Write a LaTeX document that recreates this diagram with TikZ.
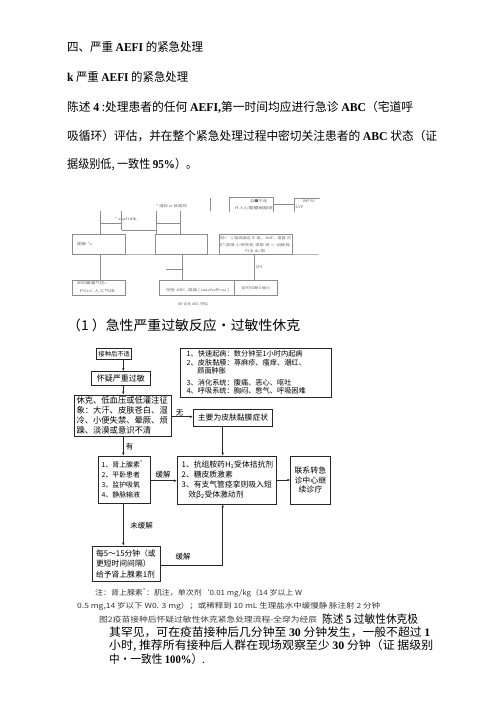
\documentclass[tikz,border=0pt]{standalone}
\usepackage{fontspec}
\usepackage{graphicx}
\setmainfont{Noto Sans CJK SC}
\newfontfamily\latf{Liberation Serif}
\usetikzlibrary{arrows.meta}
\newcommand\latb[1]{{\latf\bfseries #1}}
\newcommand\fitto[2]{\resizebox{#1}{\height}{#2}}
\newcommand\fs[1]{\fontsize{#1}{#1}\selectfont}
\newcommand\fsl[2]{\fontsize{#1}{#2}\selectfont}
\begin{document}
\begin{tikzpicture}[x=1pt,y=-1pt,
  box/.style={draw=black!85, line width=0.8pt, inner sep=0pt, align=center},
  arr/.style={draw=black!85, line width=0.6pt, -{Latex[length=3pt,width=2.6pt]}},
  gl/.style={draw=black!45, line width=0.5pt},
  sbox/.style={draw=black!45, line width=0.5pt, inner sep=0pt},
  tl/.style={inner sep=0pt, anchor=west},
  stx/.style={inner sep=0pt, text=black!60},
  lab/.style={inner sep=0pt, font=\fs{7.5}}]
\useasboundingbox[fill=white] (0,0) rectangle (500,707);

% ---- top paragraph
\node[tl] (t1) at (67,46.7) {\fitto{136pt}{\fs{12}四、严重 \latb{AEFI} 的紧急处理}};
\node[tl] (t2) at (67,76.7) {\fitto{121pt}{\fs{12}\latb{k} 严重 \latb{AEFI} 的紧急处理}};
\node[tl] (t3) at (67,107.3) {\fitto{346pt}{\fs{12}陈述 \latb{4} :处理患者的任何 \latb{AEFI,}第一时间均应进行急诊 \latb{ABC}（宅道呼}};
\node[tl] (t4) at (67,136) {\fitto{370pt}{\fs{12}吸循环）评估，并在整个紧急处理过程中密切关注患者的 \latb{ABC} 状态（证}};
\node[tl] (t5) at (67,165) {\fitto{130pt}{\fs{12}据级别低, 一致性 \latb{95\%}）。}};

% ---- small garbled chart
\draw[gl] (100.7,211) -- (100.7,234);
\draw[gl] (121.7,211) -- (121.7,230);
\draw[gl] (156.7,211) -- (156.7,234);
\draw[gl] (180.7,211) -- (180.7,234);
\draw[gl] (100.7,223) -- (121.7,223);
\draw[gl] (121.7,230) -- (156.7,230);
\draw[gl] (156.7,223) -- (180.7,223);
\draw[gl] (210,198) -- (210,211);
\node[stx] (sl1) at (126.5,219) {\fitto{23pt}{\fs{3.5}* ssaf idlk.}};
\node[stx] (sl2) at (171.5,206) {\fitto{31pt}{\fs{3.5}* 请检 ie 就是的}};
\draw[gl] (229.3,212) -- (229.3,197.7) -- (273.3,197.7) -- (273.3,212);
\node[stx] (st1) at (258.5,201) {\fitto{17pt}{\fs{3.5}自■不适}};
\node[stx] (st2) at (254,208.3) {\fitto{38pt}{\fs{3.5}ff 人心整體碗酸说}};
\draw[gl] (273.3,204) -- (294,204);
\draw[gl] (294,212) -- (294,198) -- (320,198);
\node[stx] (st3) at (308.5,201) {\fitto{13pt}{\fs{3.5}JWF RJ}};
\node[stx] (st4) at (299,207.7) {\fitto{9pt}{\fs{3.5}-LYF}};
\node[sbox, minimum width=52.3pt, minimum height=20.3pt] (s1) at (98.85,244.15) {};
\node[sbox, minimum width=52.3pt, minimum height=20.3pt] (s2) at (181.15,244.15) {};
\node[sbox, minimum width=72.7pt, minimum height=20.3pt] (s3) at (255.65,244.15) {};
\coordinate (sE) at (318,254.3);
\draw[gl] (s1.south west) -- (sE);
\node[stx] (s1t) at (85,244) {\fitto{16pt}{\fs{3.5}图第 *s.}};
\node[stx] (s3a) at (255.5,238.5) {\fitto{71pt}{\fs{3.5}但<'1 电线涵店 IF 电，JbIF，语管 沉}};
\node[stx] (s3b) at (255,245) {\fitto{70pt}{\fs{3.5}们 显得 小快先机 录取 现 ＝ 训练我}};
\node[stx] (s3c) at (255,250.7) {\fitto{20pt}{\fs{3.5}行法 du 图}};
\node[sbox, minimum width=52.3pt, minimum height=15pt] (sa) at (98.85,287.5) {};
\node[sbox, minimum width=118pt, minimum height=15pt] (sb) at (218.3,287.5) {};
\draw[gl] (sb.north -| 234,0) -- (sb.south -| 234,0);
\node[stx] (sat) at (92,283.5) {\fitto{30pt}{\fs{3.5}如时最通气压=}};
\node[stx] (sau) at (97.5,291.5) {\fitto{35pt}{\fs{3.5}PI(rc) 人工气体}};
\node[stx] (sbt) at (197.5,290) {\fitto{63pt}{\fs{3.5}空肚 ABC, 调谐 [ IaacfvdFrsu ]}};
\node[stx] (sbu) at (256,287.7) {\fitto{29pt}{\fs{3.5}定时诊断II 值火}};
\draw[gl] (s1.south -| 100,0) -- (sa.north -| 100,0);
\draw[gl] (s2.south -| 182.7,0) -- (sb.north -| 182.7,0);
\draw[gl] (166,269.3) -- (182.7,269.3);
\draw[gl] (s3.south -| 254,0) -- (sb.north -| 254,0);
\node[stx] (s1pi) at (259,267) {\fitto{7pt}{\fs{3.5}1PI}};
\node[stx] (scap) at (193,304) {\fitto{30pt}{\fs{3.5}WI 论名 ABC 符似}};

% ---- heading
\node[tl] (h1) at (67,325) {\fitto{233pt}{\fs{13.5}（1 ）急性严重过敏反应•过敏性休克}};

% ---- main flowchart
\node[box, minimum width=35pt, minimum height=11pt, font=\fs{6.3}] (b1) at (114.2,353.8) {接种后不适};
\node[box, minimum width=58.3pt, minimum height=13.3pt, font=\fs{8}] (b2) at (120.8,378.3) {怀疑严重过敏};
\node[box, minimum width=97.7pt, minimum height=41pt, align=left, inner xsep=2.5pt, text width=92.7pt, font=\fsl{8.3}{9.9}] (b3) at (122.85,415.5)
  {休克、低血压或低灌注征\\象：大汗、皮肤苍白、湿\\冷、小便失禁、晕厥、烦\\躁、淡漠或意识不清};
\node[box, minimum width=151pt, minimum height=49pt, align=left, inner xsep=6.7pt, text width=137.6pt, font=\fsl{7.2}{8.3}] (b4) at (255.5,372.5)
  {1、快速起病：数分钟至1小时内起病\\2、皮肤黏膜：荨麻疹、瘙痒、潮红、\\\hspace*{10.6pt}颜面肿胀\\[3.4pt]3、消化系统：腹痛、恶心、呕吐\\4、呼吸系统：胸闷、憋气、呼吸困难};
\node[box, minimum width=79.4pt, minimum height=17pt, font=\fs{7.8}] (b5) at (233,417.5) {主要为皮肤黏膜症状};
\node[box, minimum width=51.7pt, minimum height=47.3pt, align=left, inner xsep=3.4pt, text width=44.9pt, font=\fsl{6.9}{10}] (b6) at (124.15,479.65)
  {1、肾上腺素\textsuperscript{*}\\2、平卧患者\\3、监护吸氧\\4、静脉输液};
\node[box, minimum width=98.7pt, minimum height=48pt, align=left, inner xsep=4.4pt, text width=89.9pt, font=\fsl{7.8}{10}] (b7) at (226.65,480)
  {1、抗组胺药H\textsubscript{1}受体拮抗剂\\2、糖皮质激素\\3、有支气管痉挛则吸入短\\\hspace*{6.6pt}效β\textsubscript{2}受体激动剂};
\node[box, minimum width=39.3pt, minimum height=48pt, font=\fsl{7.9}{9.7}] (b8) at (310.35,480) {联系转急\\诊中心继\\续诊疗};
\node[box, minimum width=67.3pt, minimum height=35.7pt, align=left, inner xsep=3.3pt, text width=60.7pt, font=\fsl{7.8}{10.8}] (b9) at (126.35,563.85)
  {每5～15分钟（或\\更短时间间隔）\\给予肾上腺素1剂};

\coordinate (ax) at (123.3,0);
\coordinate (bx) at (222.7,0);
\coordinate (ry) at (0,416.7);
\coordinate (gy) at (0,480.7);
\coordinate (ky) at (0,565);
\draw[arr] (b1.south -| ax) -- (b2.north -| ax);
\draw[arr] (b2.south -| ax) -- (b3.north -| ax);
\draw[arr] (b3.south -| ax) -- (b6.north -| ax);
\draw[arr] (b6.south -| ax) -- (b9.north -| ax);
\draw[arr] (b3.east |- ry) -- (b5.west |- ry);
\draw[arr] (b5.south -| bx) -- (b7.north -| bx);
\draw[arr] (b6.east |- gy) -- (b7.west |- gy);
\draw[arr] (b7.east) -- (b8.west);
\draw[arr] (b9.east |- ky) -| (b7.south -| bx);
\node[lab] (l1) at (129.5,446.7) {有};
\node[lab] (l2) at (179.7,412.5) {无};
\node[lab] (l3) at (163,475) {缓解};
\node[lab] (l4) at (141.7,526) {未缓解};
\node[lab] (l5) at (183,557) {缓解};

% ---- notes and bottom paragraph
\node[tl, text=black!80] (n1) at (95,592.5) {\fitto{207pt}{\fs{7.2}注：肾上腺素\textsuperscript{*}：肌注，单次剂`0.01 mg/kg（14 岁以上 W}};
\node[tl, text=black!80] (n2) at (77,606) {\fitto{303pt}{\fs{7.2}0.5 mg,14 岁以下 W0. 3 mg）；或稀释到 10 mL 生理盐水中缓慢静 脉注射 2 分钟}};
\node[tl, text=black!75] (cap) at (99,619.5) {\fitto{218pt}{\fs{7.6}图2疫苗接种后怀疑过敏性休克紧急处理流程-全穿为经辰}};
\node[tl] (p1) at (322,619) {\fitto{96pt}{\fs{11.5}陈述 \latb{5} 过敏性休克极}};
\node[tl] (p2) at (109,632) {\fitto{321pt}{\fs{11.5}其罕见，可在疫苗接种后几分钟至 \latb{30} 分钟发生，一般不超过 \latb{1}}};
\node[tl] (p3) at (109,645.5) {\fitto{324pt}{\fs{11.5}小时, 推荐所有接种后人群在现场观察至少 \latb{30} 分钟（证 据级别}};
\node[tl] (p4) at (109,659) {\fitto{96pt}{\fs{11.5}中•一致性 \latb{100\%}）.}};
\end{tikzpicture}
\end{document}
